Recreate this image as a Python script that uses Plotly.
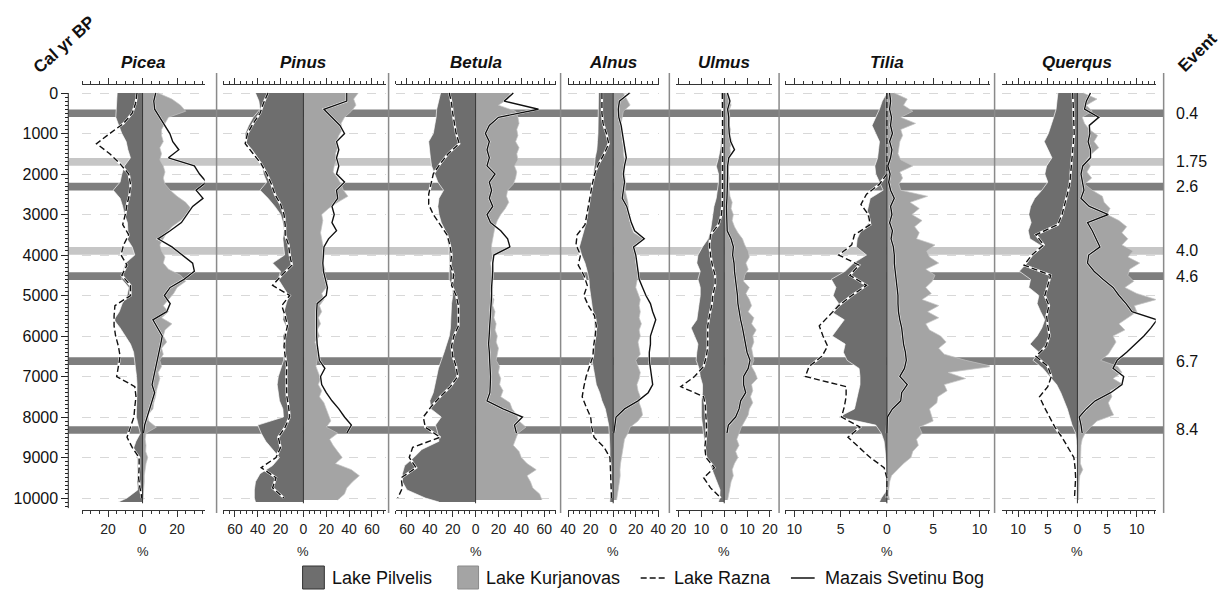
import plotly.graph_objects as go

W, H = 1226, 591

# ---------------- DATA ----------------
TAXA = ["Picea", "Pinus", "Betula", "Alnus", "Ulmus", "Tilia", "Querqus"]

# sample ages (cal yr BP) of each record
AGE_PILVELIS = [0, 200, 400, 600, 800, 1000, 1200, 1400, 1600, 1800, 2000, 2200, 2400, 2600, 2800,
                3000, 3200, 3400, 3600, 3800, 4000, 4200, 4400, 4600, 4800, 5000, 5200, 5400, 5600,
                5800, 6000, 6200, 6400, 6600, 6800, 7000, 7200, 7400, 7600, 7800, 8000, 8200, 8400,
                8600, 8800, 9000, 9200, 9400, 9600, 9800, 10000, 10100]
AGE_KURJANOVAS = [0, 150, 300, 450, 600, 750, 900, 1050, 1200, 1350, 1500, 1650, 1800, 1950, 2100,
                  2250, 2400, 2550, 2700, 2850, 3000, 3150, 3300, 3450, 3600, 3750, 3900, 4050, 4200,
                  4350, 4500, 4650, 4800, 4950, 5100, 5250, 5400, 5550, 5700, 5850, 6000, 6150, 6300,
                  6450, 6600, 6750, 6900, 7050, 7200, 7350, 7500, 7650, 7800, 7950, 8100, 8250, 8400,
                  8550, 8700, 8850, 9000, 9150, 9300, 9450, 9600, 9750, 9900, 10050]
AGE_RAZNA = [0, 250, 500, 750, 1000, 1250, 1500, 1750, 2000, 2250, 2500, 2750, 3000, 3250, 3500,
             3750, 4000, 4250, 4500, 4750, 5000, 5250, 5500, 5750, 6000, 6250, 6500, 6750, 7000,
             7250, 7500, 7750, 8000, 8250, 8500, 8750, 9000, 9250, 9500, 9750, 10000]
AGE_SVETINU = [0, 200, 400, 600, 800, 1000, 1200, 1400, 1600, 1800, 2000, 2200, 2400, 2600, 2800,
               3000, 3200, 3400, 3600, 3800, 4000, 4200, 4400, 4600, 4800, 5000, 5200, 5400, 5600,
               5800, 6000, 6200, 6400, 6600, 6800, 7000, 7200, 7400, 7600, 7800, 8000, 8200, 8400]

# Lake Pilvelis (%), drawn to the left
PICEA_PIL = [14.7, 15, 15.5, 15.5, 13.8, 12, 9.5, 8.5, 7, 10.5, 12, 13, 17, 13, 11.5, 10.5, 8.8, 8.5, 9, 6,
             4.5, 9.9, 11.5, 12, 8, 9, 11.8, 13.5, 16.6, 13, 10, 7, 5.2, 4.5, 4.2, 3.5, 3.2, 3.2, 3.2, 3.4,
             3.6, 2.5, 1.3, 3.8, 5.5, 3, 2.8, 3, 3.2, 2.8, 9, 14]
PINUS_PIL = [42, 39, 38, 44, 48, 51, 51, 45, 40, 36, 35, 32, 38, 31, 25, 20, 18, 17, 18, 17,
             16.5, 27, 20, 22, 17.5, 13, 15, 17, 18, 14.5, 18, 17.5, 17, 17.4, 20, 22, 23, 22, 21, 18,
             17.5, 40, 37, 33, 27, 21, 27, 38, 42, 43, 43, 42]
BETULA_PIL = [30.6, 32, 34, 34.5, 35.5, 37, 41, 40.5, 39.5, 38.5, 36, 33, 28, 32, 33, 32, 30, 26.5, 25, 23.5,
              23, 23, 23.5, 23, 20.5, 20, 21, 21.4, 21.4, 22, 23, 25, 27.5, 30, 32.5, 34, 35.5, 37, 40, 39,
              30, 35, 33, 32, 47, 54, 62, 64, 64, 60, 44, 32]
ALNUS_PIL = [13, 13, 13, 13.5, 13.5, 13.5, 14, 14.5, 16, 16.5, 17.5, 18.5, 19.5, 21, 22, 23, 24, 26, 28, 30,
             28, 25, 23, 21.5, 21, 20, 18.5, 18, 17, 16.5, 17, 17.5, 18, 18.8, 17.5, 16.5, 15, 12, 10, 7,
             5.5, 4, 3.5, 3, 2.9, 2.9, 2.5, 2.3, 2.3, 2.5, 3, 3]
ULMUS_PIL = [1.5, 1.2, 1, 1, 1, 1.2, 1.5, 1.8, 2.5, 3.5, 2.5, 2.5, 3, 3.5, 4.5, 5, 5.5, 6, 7, 9.5,
             11.5, 12, 10.5, 11.5, 10.5, 10.5, 11, 11.5, 12, 14.5, 13, 11.5, 12, 12.3, 11, 10.5, 9.5, 9.5, 10, 10,
             10, 9.5, 9, 8.7, 8.5, 7.5, 6, 4.5, 3, 1.8, 2, 2.5]
TILIA_PIL = [0, 0.5, 0.8, 1.2, 1.6, 1.2, 0.8, 0.9, 1, 1.3, 1.2, 0.8, 0.4, 1.8, 2, 2.2, 1.9, 2.8, 3.2, 3.3,
             2.2, 3.6, 4.5, 6, 5.5, 5.8, 5.2, 6, 4.6, 5.3, 5.9, 4.5, 4.7, 4.3, 3, 2.9, 2.9, 3.1, 3.3, 3.5,
             5.2, 1.2, 0.6, 0.3, 0.2, 0.1, 0.05, 0, 0, 0, 0.6, 0.8]
QUERCUS_PIL = [3.3, 3.4, 3.6, 4, 4.4, 4.9, 5.6, 5, 4.3, 5.2, 5.5, 5, 6, 7.2, 7.9, 8.2, 7.8, 8.3, 8, 5.8,
               7.5, 8.5, 9.8, 7.9, 8.2, 6.5, 6.8, 6.2, 5.5, 6, 6.8, 8, 6.5, 7.5, 5.8, 4.7, 3.5, 2.8, 2.2, 1.7,
               1.3, 0.9, 0.3, 0.1, 0, 0, 0, 0, 0, 0, 0, 0]

# Lake Kurjanovas (%), drawn to the right
PICEA_KUR = [9, 17, 22, 25, 15, 13, 11, 11, 12, 10, 11, 10, 12, 13, 12, 13, 16, 20, 25, 28,
             26, 22, 17, 14, 12, 10, 11, 13, 12, 15, 22, 25, 20, 18, 15, 12, 15, 11, 17, 13,
             12, 14, 11, 12, 10, 11, 9, 10, 9, 8, 7.5, 6.5, 6, 3, 3.5, 8, 2, 1.5, 2, 1.8,
             3, 2, 1.5, 1, 1, 0.8, 0.7, 0.2]
PINUS_KUR = [48, 44, 46, 42, 36, 33, 34, 31, 29, 30, 28, 29, 27, 26, 30, 33, 35, 39, 30, 22,
             16, 17, 16, 15, 16, 17, 19, 18, 17, 19, 18, 21, 20, 16, 18, 14, 16, 13, 15, 12,
             14, 10, 12, 13, 12, 11, 13, 15, 13, 16, 14, 18, 20, 22, 24, 20, 30, 23, 26, 30,
             34, 28, 42, 49, 43, 38, 36, 30]
BETULA_KUR = [30, 28, 20, 35, 37, 38, 36, 37, 35, 38, 36, 37, 34, 36, 35, 33, 28, 27, 29, 26,
              22, 19, 17, 16, 15, 14, 14, 15, 13, 14, 15, 14, 15, 13, 16, 15, 17, 16, 18, 17,
              19, 18, 20, 19, 18, 21, 20, 22, 21, 24, 22, 30, 32, 36, 38, 44, 37, 35, 33, 38,
              40, 45, 53, 45, 48, 50, 56, 58]
ALNUS_KUR = [9, 12, 15, 9, 8, 7, 8, 7.5, 8, 9, 9, 10, 9.5, 10, 10.5, 11, 10.5, 12, 13, 13.5,
             14, 14.5, 16, 18, 27, 20, 19, 20, 20, 21, 22, 21, 20, 22, 24, 23, 24, 23, 25, 23,
             24, 22, 23, 24, 20, 22, 24, 23, 21, 22, 24, 23, 25, 26, 22, 15, 13, 10, 9, 8,
             7.5, 6.5, 6, 6.2, 5.5, 4.5, 4, 3]
ULMUS_KUR = [1.5, 2.5, 3, 2, 2.5, 2, 2.8, 2.5, 3.5, 2.5, 2.8, 1.5, 2, 1.8, 2.2, 2, 2.2, 2.5, 3.5, 3,
             4, 3.5, 4.5, 6, 8, 9, 10.5, 11, 9.5, 10.5, 9, 8.5, 11, 9.5, 11, 12, 10.5, 13, 12, 14,
             12.5, 13, 12, 12.5, 13, 12, 13.5, 14.5, 12, 12.5, 11.5, 12.5, 11, 10.5, 9, 7.5, 6.5, 5.5, 6.5, 5,
             6, 4.5, 3.5, 4, 3, 2.5, 2, 1.5]
TILIA_KUR = [0.8, 2.2, 1.8, 2.8, 1.5, 3.1, 1.5, 1.7, 1.4, 1.3, 1.2, 1.5, 2.8, 1.4, 1.7, 1.3, 1.5, 4.4, 2.5, 3.5,
             2.7, 3.8, 3, 3.5, 3.2, 5.2, 4.3, 4.6, 5.6, 4.2, 5.2, 4.9, 4.2, 4.8, 3.8, 5.6, 4.4, 5.6, 4.2, 4.6,
             5.8, 6.4, 5.6, 6.2, 8.5, 11.4, 6.6, 8.5, 6.2, 6.5, 5.5, 5.4, 4.6, 4.8, 5, 3.5, 3.8, 3.2, 3.4, 2.8,
             2.6, 1.8, 1.2, 0.5, 0.3, 0.25, 0.15, 0.3]
QUERCUS_KUR = [1, 3.3, 1.5, 2.5, 0.8, 1.2, 2, 3.4, 2.8, 3.6, 2.4, 1.5, 2.2, 1.6, 2.4, 1.2, 2.5, 4.2, 4.5, 5.5,
               5, 7, 8.3, 7.5, 8.5, 7.5, 9.4, 8.5, 10.5, 8.8, 8.5, 9.5, 8, 10, 13.3, 9.6, 10, 8.5, 7, 8,
               6, 6.5, 5.8, 5.2, 3.9, 6.8, 7.5, 6, 7.7, 5.5, 5.8, 5.2, 5.6, 6.1, 3.3, 2.2, 1.3, 0.8, 0.6, 0.6,
               0.5, 0.5, 0.9, 0.4, 0.3, 0.3, 0.2, 0.2]

# Lake Razna (%), dashed, drawn to the left
PICEA_RAZ = [3.2, 4, 6, 11, 19, 26.7, 19, 13, 8, 7, 7.5, 9, 10, 11.5, 8, 11, 12.5, 9, 12, 7,
             7, 16, 16.5, 16.5, 15.6, 14, 13, 14, 15, 4.5, 3.8, 4.5, 5, 7, 9, 6, 2, 2, 2.3, 1.5, 0.4]
PINUS_RAZ = [31, 35, 38, 44, 49, 51, 44, 37, 32, 28, 25, 20, 17, 16, 16, 13, 12, 10, 19, 27,
             12, 19, 16, 14, 16, 17, 16, 14.5, 15, 15, 14.5, 13, 12, 16, 22, 20, 24, 37, 24, 27, 17]
BETULA_RAZ = [23, 21, 20, 18.5, 17, 14.3, 24, 31, 37, 39, 41, 41, 37, 31, 25, 22.5, 21, 22, 19, 21,
              17, 15, 15, 15, 19, 21, 20, 17, 15.7, 22, 31, 39, 45.7, 44, 31, 55, 58, 52, 65, 64, 68]
ALNUS_RAZ = [10, 10, 10, 9, 6, 4, 8, 13, 16.5, 18.5, 20, 22, 23, 25, 32, 33, 29, 31, 26, 23,
             26, 22, 16.5, 15, 16, 17.4, 18, 21, 24, 26, 27.5, 24, 20, 19, 17, 8, 2.9, 2.5, 2.2, 2, 1.5]
ULMUS_RAZ = [0.8, 0.7, 0.7, 0.7, 0.7, 0.7, 0.7, 0.7, 0.7, 0.7, 0.7, 0.8, 1.2, 2.5, 6, 6.5, 6, 5.2, 4, 4,
             5, 5.5, 6.5, 7.2, 7.2, 7.2, 7.8, 9, 13, 19, 9, 8.2, 8, 7.7, 8, 8.5, 8, 4.3, 9, 6, 1.5]
TILIA_RAZ = [0, 0, 0, 0, 0, 0, 0, 0, 0, 0.8, 2.2, 2.8, 2, 1.8, 3.5, 3.8, 5.2, 3, 4, 2.2,
             3.8, 5.2, 6.3, 7.3, 6.9, 6.4, 7, 8.4, 8.8, 4.4, 4.4, 4.6, 4.9, 2.9, 4.2, 3, 1.8, 0.3, 0, 0, 0]
QUERCUS_RAZ = [0.8, 0.7, 0.7, 0.6, 0.55, 0.7, 0.9, 1, 1.1, 1.3, 1.7, 2.2, 2.6, 3.3, 7, 5.7, 7.7, 9, 4.5, 5,
               5.5, 4.8, 5.2, 5, 4.7, 5.3, 7, 5, 4.4, 5, 6.4, 5.6, 4.7, 3.8, 2.6, 1.6, 0.6, 0.4, 0.3, 0.4, 0.5]

# Mazais Svetinu Bog (%), solid, drawn to the right
PICEA_SVE = [7.6, 6.5, 7, 10, 13, 15.8, 17.5, 21, 15, 30, 33, 37, 31, 35, 29, 26, 22.5, 16, 9, 17,
             23, 29, 30, 24, 16, 12.6, 16, 14, 6, 8.5, 11.4, 10.5, 9.5, 8.5, 7.5, 6.5, 5.5, 7, 5.5, 4,
             2.5, 1.2, 0.6]
PINUS_SVE = [38, 38, 18, 25, 32, 36, 29, 31, 29, 31, 29, 36, 29, 30, 25, 27, 25, 29, 22, 18,
             17.4, 17, 17.5, 19, 21, 20, 12, 11.6, 11.5, 12, 11.6, 12, 13, 14, 18.8, 15, 16, 20, 25, 31,
             36, 42, 38]
BETULA_SVE = [33, 25, 55, 20, 12, 8.6, 12, 10, 12, 10, 17, 12, 14, 12, 15, 10, 13, 22, 28, 30,
              16, 15, 15, 14.3, 14, 14, 13.5, 13, 13, 12, 12, 11.4, 12, 12.5, 13, 13, 12.8, 12.5, 10, 24,
              41, 34, 35.7]
ALNUS_SVE = [14.5, 5.5, 4.5, 5, 7, 8, 9, 10.5, 11.6, 10, 9, 10, 9, 8, 12, 14, 16, 19, 27.5, 18,
             20, 21, 22, 23, 26, 29, 33, 35, 37.7, 35, 33, 33, 32, 32, 33, 34, 35, 31, 22, 10,
             2.5, 1.5, 0.5]
ULMUS_SVE = [1.4, 2.5, 1.5, 2, 2, 2.2, 2.8, 4.5, 2, 1.5, 1.5, 1.5, 1.3, 1.2, 1, 1, 1, 1.3, 3, 4,
             3.7, 4.3, 4.5, 5, 5.5, 5.8, 6, 6.5, 7.2, 8, 8.7, 9.4, 10, 11.3, 10.5, 8.5, 8.5, 9.4, 7.2, 6.5,
             5, 1.8, 1.2]
TILIA_SVE = [0.3, 0.4, 0.3, 0.5, 0.4, 0.6, 0.3, 0.55, 0.4, 0.1, 0.35, 0.2, 0.4, 0.8, 0.4, 0.55, 0.3, 0.6, 0.45, 0.7,
             0.8, 0.8, 0.9, 1, 1.1, 1.2, 1.2, 1.25, 1.4, 1.6, 1.7, 1.8, 2, 2.1, 1.9, 1.4, 2.2, 1.6, 1.5, 0.6,
             0.05, 0, 0]
QUERCUS_SVE = [2.2, 1.5, 1.2, 3.6, 2, 2.1, 1.8, 2.2, 2.2, 0.9, 0.6, 0.9, 1.1, 0.6, 2, 5.2, 1.7, 2.5, 3.2, 3.8,
               1.9, 1.7, 2.8, 4.3, 6, 7, 8.2, 9.2, 13.4, 12.4, 11.2, 9.8, 8.3, 6.7, 6, 7.8, 7.5, 5.6, 3, 1.5,
               0.3, 0.6, 0.8]

# events (ka) and band centres (cal yr BP)
EVENT_LABELS = ["0.4", "1.75", "2.6", "4.0", "4.6", "6.7", "8.4"]
EVENT_AGES = [500, 1700, 2310, 3900, 4520, 6620, 8320]
EVENT_LIGHT = [False, True, False, True, False, False, False]

Y_TICKS = [0, 1000, 2000, 3000, 4000, 5000, 6000, 7000, 8000, 9000, 10000]
LEGEND_NAMES = ["Lake Pilvelis", "Lake Kurjanovas", "Lake Razna", "Mazais Svetinu Bog"]

PIL = [PICEA_PIL, PINUS_PIL, BETULA_PIL, ALNUS_PIL, ULMUS_PIL, TILIA_PIL, QUERCUS_PIL]
KUR = [PICEA_KUR, PINUS_KUR, BETULA_KUR, ALNUS_KUR, ULMUS_KUR, TILIA_KUR, QUERCUS_KUR]
RAZ = [PICEA_RAZ, PINUS_RAZ, BETULA_RAZ, ALNUS_RAZ, ULMUS_RAZ, TILIA_RAZ, QUERCUS_RAZ]
SVE = [PICEA_SVE, PINUS_SVE, BETULA_SVE, ALNUS_SVE, ULMUS_SVE, TILIA_SVE, QUERCUS_SVE]

# ---------------- LAYOUT SETTINGS ----------------
PANEL_PX = [(76, 200), (219, 383), (393, 555), (567, 660), (677, 774), (787, 994), (1006, 1162)]
PANEL_RANGE = [(-35, 36), (-70, 72), (-70, 70), (-40.5, 41), (-21, 21), (-11, 11.1), (-12.8, 13.2)]
PANEL_MAJOR = [[-20, 0, 20], [-60, -40, -20, 0, 20, 40, 60], [-60, -40, -20, 0, 20, 40, 60],
               [-40, -20, 0, 20, 40], [-20, -10, 0, 10, 20], [-10, -5, 0, 5, 10], [-10, -5, 0, 5, 10]]
PANEL_MINOR = [5, 5, 5, 5, 5, 1, 1]
SEPARATORS = [212, 386, 560, 670, 781, 999, 1170]

DARK = "#6e6e6e"
LIGHT = "#a4a4a4"
BAND_DARK = "#7e7e7e"
BAND_LIGHT = "#c6c6c6"
FONT = "Liberation Sans, Arial, sans-serif"

TOP_PX, BOT_PX = 85, 510
Y_RANGE = [10296, -198]


def px(x):
    return x / W


def py(y):
    return 1 - y / H


fig = go.Figure()
layout = {}
shapes = []
annotations = []

for i, name in enumerate(TAXA):
    k = i + 1
    xa = "x" if k == 1 else f"x{k}"
    # Lake Pilvelis (left)
    fig.add_trace(go.Scatter(x=[-v for v in PIL[i]], y=AGE_PILVELIS, xaxis=xa, yaxis="y",
                             mode="lines", fill="tozerox", fillcolor=DARK,
                             line=dict(color="rgba(255,255,255,0.85)", width=0.8), hoverinfo="skip"))
    # Lake Kurjanovas (right)
    fig.add_trace(go.Scatter(x=KUR[i], y=AGE_KURJANOVAS, xaxis=xa, yaxis="y",
                             mode="lines", fill="tozerox", fillcolor=LIGHT,
                             line=dict(color="#c4c4c4", width=0.7), hoverinfo="skip"))
    # Lake Razna
    fig.add_trace(go.Scatter(x=[-v for v in RAZ[i]], y=AGE_RAZNA, xaxis=xa, yaxis="y", mode="lines",
                             line=dict(color="white", width=2.3), hoverinfo="skip"))
    fig.add_trace(go.Scatter(x=[-v for v in RAZ[i]], y=AGE_RAZNA, xaxis=xa, yaxis="y", mode="lines",
                             line=dict(color="#111111", width=1.4, dash="6px,3px"), hoverinfo="skip"))
    # Mazais Svetinu Bog
    fig.add_trace(go.Scatter(x=SVE[i], y=AGE_SVETINU, xaxis=xa, yaxis="y", mode="lines",
                             line=dict(color="white", width=2.3), hoverinfo="skip"))
    fig.add_trace(go.Scatter(x=SVE[i], y=AGE_SVETINU, xaxis=xa, yaxis="y", mode="lines",
                             line=dict(color="#111111", width=1.4), hoverinfo="skip"))

    a, b = PANEL_PX[i]
    layout["xaxis" if k == 1 else f"xaxis{k}"] = dict(
        domain=[px(a), px(b)], range=list(PANEL_RANGE[i]), anchor="y",
        showline=True, linecolor="#333333", linewidth=1, mirror="ticks",
        ticks="outside", ticklen=6, tickwidth=1, tickcolor="#333333",
        tickmode="array", tickvals=PANEL_MAJOR[i], ticktext=[str(abs(v)) for v in PANEL_MAJOR[i]],
        tickfont=dict(size=14, color="#222222", family=FONT),
        minor=dict(tickmode="linear", tick0=0, dtick=PANEL_MINOR[i], ticklen=3, tickwidth=1,
                   tickcolor="#333333", ticks="outside", showgrid=False),
        showgrid=False, zeroline=False, fixedrange=True,
    )
    # zero line of panel
    shapes.append(dict(type="line", xref=xa, yref="y", x0=0, x1=0, y0=0, y1=10130,
                       line=dict(color="#333333", width=1), layer="above"))
    # title
    annotations.append(dict(xref=xa, yref="paper", x=0, y=py(63), text=f"<b><i>{name}</i></b>",
                            showarrow=False, font=dict(size=17, color="#111111", family=FONT),
                            xanchor="center", yanchor="middle"))
    annotations.append(dict(xref=xa, yref="paper", x=0, y=py(551), text="%", showarrow=False,
                            font=dict(size=13, color="#222222", family=FONT),
                            xanchor="center", yanchor="middle"))

layout["yaxis"] = dict(
    domain=[py(BOT_PX), py(TOP_PX)], range=Y_RANGE, anchor="free", position=px(62),
    tickmode="array", tickvals=Y_TICKS, ticktext=[str(v) for v in Y_TICKS],
    ticks="outside", ticklen=7, tickwidth=1, tickcolor="#222222",
    tickfont=dict(size=16, color="#111111", family=FONT),
    minor=dict(tickmode="array", tickvals=[v * 100 for v in range(0, 103)], ticklen=3.5, tickwidth=1,
               tickcolor="#222222", ticks="outside", showgrid=False),
    showline=False, showgrid=True, gridcolor="#d8d8d8", griddash="dash", gridwidth=1,
    zeroline=False, fixedrange=True,
)

# y-axis line
shapes.append(dict(type="line", xref="paper", yref="y", x0=px(62), x1=px(62), y0=0, y1=10250,
                   line=dict(color="#222222", width=1), layer="above"))

# event bands
for age, light in zip(EVENT_AGES, EVENT_LIGHT):
    shapes.append(dict(type="rect", xref="paper", yref="y", x0=px(62.5), x1=px(1170), y0=age - 95, y1=age + 95,
                       fillcolor=BAND_LIGHT if light else BAND_DARK, line=dict(width=0), layer="below"))

# panel separators
for sx in SEPARATORS:
    shapes.append(dict(type="line", xref="paper", yref="paper", x0=px(sx), x1=px(sx), y0=py(513), y1=py(73),
                       line=dict(color="#8a8a8a", width=1.5), layer="above"))

# event labels
for lab, age in zip(EVENT_LABELS, EVENT_AGES):
    annotations.append(dict(xref="paper", yref="y", x=px(1180), y=age, text=lab, showarrow=False,
                            xanchor="left", yanchor="middle", font=dict(size=16, color="#111111", family=FONT)))

annotations.append(dict(xref="paper", yref="paper", x=px(58), y=py(44), text="<b>Cal yr BP</b>",
                        xanchor="center", yanchor="middle",
                        showarrow=False, textangle=-42, font=dict(size=17, color="#111111", family=FONT)))
annotations.append(dict(xref="paper", yref="paper", x=px(1204), y=py(52), text="<b>Event</b>",
                        xanchor="center", yanchor="middle",
                        showarrow=False, textangle=-45, font=dict(size=17, color="#111111", family=FONT)))

# legend (drawn manually)
LY = 578
shapes.append(dict(type="rect", xref="paper", yref="paper", x0=px(299), x1=px(321), y0=py(589), y1=py(566),
                   fillcolor=DARK, line=dict(color="#333333", width=1)))
shapes.append(dict(type="rect", xref="paper", yref="paper", x0=px(456), x1=px(477), y0=py(589), y1=py(566),
                   fillcolor=LIGHT, line=dict(color="#8a8a8a", width=1)))
shapes.append(dict(type="line", xref="paper", yref="paper", x0=px(641), x1=px(668), y0=py(LY), y1=py(LY),
                   line=dict(color="#111111", width=1.5, dash="6px,3px")))
shapes.append(dict(type="line", xref="paper", yref="paper", x0=px(793), x1=px(817), y0=py(LY), y1=py(LY),
                   line=dict(color="#111111", width=1.5)))
for lx, txt in zip([327, 483, 673, 825], LEGEND_NAMES):
    annotations.append(dict(xref="paper", yref="paper", x=px(lx), y=py(LY), text=txt, showarrow=False,
                            xanchor="left", yanchor="middle", font=dict(size=18, color="#111111", family=FONT)))

fig.update_layout(
    width=W, height=H, autosize=False,
    margin=dict(l=0, r=0, t=0, b=0, pad=0),
    paper_bgcolor="white", plot_bgcolor="white",
    showlegend=False, font=dict(family=FONT, color="#111111"),
    shapes=shapes, annotations=annotations, **layout,
)

fig.write_html("out.html", config={"displayModeBar": False},
               post_script="document.body.style.margin='0';document.body.style.padding='0';"
                           "document.body.style.overflow='hidden';")
